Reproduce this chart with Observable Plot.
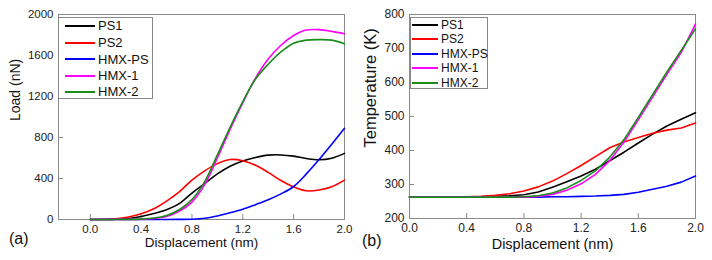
<!DOCTYPE html>
<html>
<head>
<meta charset="utf-8">
<script src="https://cdn.jsdelivr.net/npm/d3@7"></script>
<script src="https://cdn.jsdelivr.net/npm/@observablehq/plot@0.6"></script>
<style>
  html, body { margin: 0; padding: 0; background: #fff; }
  #wrap { position: relative; width: 712px; height: 260px; overflow: hidden; font-family: "Liberation Sans", Arial, sans-serif; }
  .panel { position: absolute; top: 0; }
  .legend { position: absolute; border: 1px solid #888; background: #fff; box-sizing: border-box; color: #111; }
  .legend .row { position: absolute; left: 0; display: flex; align-items: center; white-space: nowrap; }
  .legend .sw { display: inline-block; }
  .tag { position: absolute; font-size: 16px; color: #111; }
</style>
</head>
<body>
<div id="wrap"></div>
<script>
// ---- data ----
const disp = [0.0,0.1,0.2,0.3,0.4,0.5,0.6,0.7,0.8,0.9,1.0,1.1,1.2,1.3,1.4,1.5,1.6,1.7,1.8,1.9,2.0];
const seriesNames = ["PS1","PS2","HMX-PS","HMX-1","HMX-2"];
const seriesColors = ["#000000","#ff0000","#0000ff","#ff00ff","#1a8c1a"];

// (a) Load (nN)
const loadPS1   = [0,0,3,10,30,58,95,155,258,350,445,520,571,605,628,630,618,595,583,598,645];
const loadPS2   = [0,2,8,25,56,105,180,270,384,475,545,585,574,530,460,380,318,280,288,320,384];
const loadHMXPS = [0,0,0,0,0,0,0,1,3,12,35,65,100,145,193,250,322,445,585,735,890];
const loadHMX1  = [0,0,0,1,3,10,30,80,170,340,600,880,1140,1380,1565,1700,1795,1848,1852,1835,1812];
const loadHMX2  = [0,0,0,1,4,14,40,95,195,370,630,900,1150,1370,1515,1635,1720,1750,1755,1750,1715];

// (b) Temperature (K)
const tempPS1   = [263,263,263,263,263,264,265,267,270,278,292,308,325,345,370,395,422,448,472,492,511];
const tempPS2   = [263,263,263,263,264,265,268,273,281,293,310,332,356,382,408,425,438,451,460,466,481];
const tempHMXPS = [263,263,263,263,263,263,263,263,263,263,264,264,265,266,268,271,277,286,295,307,325];
const tempHMX1  = [263,263,263,263,263,263,263,263,263,265,271,283,302,330,370,425,490,557,624,688,772];
const tempHMX2  = [263,263,263,263,263,263,263,263,264,267,275,290,312,340,380,432,497,564,631,694,758];

const xTicks = [0.0,0.4,0.8,1.2,1.6,2.0];
const loadTicks = [0,400,800,1200,1600,2000];
const tempTicks = [200,300,400,500,600,700,800];

function rows(arrs) {
  const out = [];
  arrs.forEach((arr, i) => arr.forEach((v, j) => out.push({x: disp[j], y: v, s: seriesNames[i]})));
  return out;
}
const loadRows = rows([loadPS1, loadPS2, loadHMXPS, loadHMX1, loadHMX2]);
const tempRows = rows([tempPS1, tempPS2, tempHMXPS, tempHMX1, tempHMX2]);

const font = '"Liberation Sans", Arial, sans-serif';
const fmt1 = d3.format(".1f");
const fmtInt = d3.format("d");

function panel({w, ml, mr, mt, mb, xDomain, yDomain, yTicks, data, curve, xLabel, yLabel, xLabelDy, xLabelSize, yLabelDx, yLabelDy, yLabelSize, tickFont}) {
  const frameW = w - ml - mr, frameH = 260 - mt - mb;
  return Plot.plot({
    width: w, height: 260,
    marginLeft: ml, marginRight: mr, marginTop: mt, marginBottom: mb,
    style: {fontFamily: font, fontSize: tickFont + "px", color: "#222", background: "transparent"},
    x: {domain: xDomain},
    y: {domain: yDomain},
    color: {domain: seriesNames, range: seriesColors},
    marks: [
      Plot.frame({stroke: "#8a8a8a"}),
      Plot.tickX(xTicks, {x: d => d, insetTop: frameH - 5, stroke: "#8a8a8a"}),
      Plot.tickY(yTicks, {y: d => d, insetRight: frameW - 5, stroke: "#8a8a8a"}),
      Plot.axisX({ticks: xTicks, tickSize: 0, tickPadding: 5, tickFormat: fmt1, label: null, fontSize: tickFont}),
      Plot.axisY({ticks: yTicks, tickSize: 0, tickPadding: 5, tickFormat: fmtInt, label: null, fontSize: tickFont}),
      Plot.line(data, {x: "x", y: "y", z: "s", stroke: "s", strokeWidth: 1.6, curve}),
      Plot.text([xLabel], {frameAnchor: "bottom", dy: xLabelDy, fontSize: xLabelSize, fill: "#111"}),
      Plot.text([yLabel], {frameAnchor: "left", rotate: -90, dx: yLabelDx, dy: yLabelDy, fontSize: yLabelSize, fill: "#111"})
    ]
  });
}

const wrap = document.getElementById("wrap");

const pa = panel({w: 356, ml: 58, mr: 12, mt: 14, mb: 41, xDomain: [-0.25, 2.0], yDomain: [0, 2000], yTicks: loadTicks,
  data: loadRows, curve: "catmull-rom", xLabel: "Displacement (nm)", yLabel: "Load (nN)",
  xLabelDy: 27, xLabelSize: 13.5, yLabelDx: -43, yLabelDy: 4, yLabelSize: 14, tickFont: 11.5});
pa.classList.add("panel"); pa.style.left = "0px";
wrap.appendChild(pa);

const pb = panel({w: 360, ml: 57, mr: 17, mt: 14, mb: 42, xDomain: [0, 2.0], yDomain: [200, 800], yTicks: tempTicks,
  data: tempRows, curve: "linear", xLabel: "Displacement (nm)", yLabel: "Temperature (K)",
  xLabelDy: 30, xLabelSize: 14.5, yLabelDx: -39, yLabelDy: 31, yLabelSize: 16.5, tickFont: 12});
pb.classList.add("panel"); pb.style.left = "352px";
wrap.appendChild(pb);

function legend(left, top, w, h, rowY, lineX0, lineW, gap, fs) {
  const box = document.createElement("div");
  box.className = "legend";
  Object.assign(box.style, {left: left + "px", top: top + "px", width: w + "px", height: h + "px", fontSize: fs + "px"});
  seriesNames.forEach((name, i) => {
    const r = document.createElement("div");
    r.className = "row";
    r.style.top = (rowY[i] - top - fs * 0.6) + "px";
    r.style.height = (fs * 1.2) + "px";
    r.style.left = (lineX0 - left - 1) + "px";
    const sw = document.createElement("span");
    sw.className = "sw";
    Object.assign(sw.style, {width: lineW + "px", height: "2px", background: seriesColors[i], marginRight: gap + "px"});
    const t = document.createElement("span");
    t.textContent = name;
    r.appendChild(sw); r.appendChild(t);
    box.appendChild(r);
  });
  wrap.appendChild(box);
}
legend(58, 17, 95, 82, [25, 42, 58.5, 75, 91], 65, 30, 3, 13);
legend(410, 17, 78, 72, [23.7, 38, 52.7, 67.3, 81.7], 412, 26, 3, 12);

function tag(txt, cx, cy) {
  const d = document.createElement("div");
  d.className = "tag";
  d.textContent = txt;
  Object.assign(d.style, {left: (cx - 11) + "px", top: (cy - 10) + "px"});
  wrap.appendChild(d);
}
tag("(a)", 20, 240);
tag("(b)", 373, 242);
</script>
</body>
</html>
